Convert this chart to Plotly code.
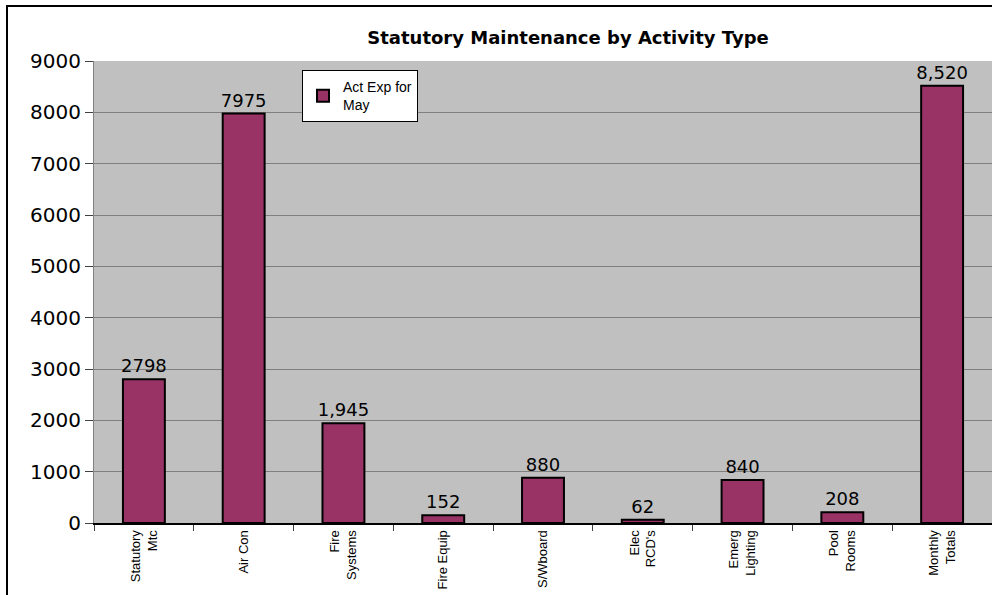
import plotly.graph_objects as go

categories = ["Statutory<br>Mtc", "Air Con", "Fire<br>Systems", "Fire Equip", "S/Wboard",
              "Elec<br>RCD's", "Emerg<br>Lighting", "Pool<br>Rooms", "Monthly<br>Totals"]
values = [2798, 7975, 1945, 152, 880, 62, 840, 208, 8520]
value_labels = ["2798", "7975", "1,945", "152", "880", "62", "840", "208", "8,520"]
series_name = "Act Exp for<br>May"
y_ticks = [0, 1000, 2000, 3000, 4000, 5000, 6000, 7000, 8000, 9000]

FONT = "Liberation Sans, Arial, sans-serif"
WIDE = "DejaVu Sans, Verdana, sans-serif"

fig = go.Figure()
fig.add_trace(go.Bar(
    x=categories, y=values, name=series_name,
    marker=dict(color="#993366", line=dict(color="black", width=2)),
    text=value_labels, textposition="outside", cliponaxis=False,
    textfont=dict(family=WIDE, size=18, color="black"),
    showlegend=True,
))

fig.update_layout(
    width=992, height=595,
    margin=dict(l=94, r=0, t=61, b=72),
    paper_bgcolor="white", plot_bgcolor="#C0C0C0",
    bargap=0.58,
    uniformtext=dict(minsize=18, mode="show"),
    font=dict(family=FONT, color="black"),
    title=dict(text="<b>Statutory Maintenance by Activity Type</b>",
               x=568 / 992, xanchor="center", xref="container",
               y=1 - 38 / 595, yanchor="middle", yref="container",
               font=dict(family=WIDE, size=18, color="black")),
    legend=dict(x=(302 - 94) / 898, y=(523 - 70) / 462, xanchor="left", yanchor="top",
                bgcolor="white", bordercolor="black", borderwidth=1,
                font=dict(family=FONT, size=14, color="black"),
                itemwidth=30),
    xaxis=dict(tickangle=-90, tickfont=dict(family=FONT, size=13, color="black"),
               showgrid=False, ticks="outside", ticklen=6, tickcolor="#404040",
               tickson="boundaries", showline=True, linecolor="black", linewidth=2,
               fixedrange=True),
    yaxis=dict(range=[0, 9000], tickvals=y_ticks, tickfont=dict(family=WIDE, size=20, color="black"),
               showgrid=True, gridcolor="#808080", gridwidth=1,
               ticks="outside", ticklen=8, tickcolor="#404040",
               showline=True, linecolor="#808080", linewidth=1, zeroline=False,
               fixedrange=True),
)

# outer chart-area border
fig.add_shape(type="rect", xref="paper", yref="paper",
              x0=(7 - 94) / 898, x1=1.01, y0=-0.2, y1=(523 - 6) / 462,
              line=dict(color="black", width=2), fillcolor="rgba(0,0,0,0)", layer="below")

fig.write_html("out.html", config={"displayModeBar": False},
               post_script="document.body.style.margin='0';")
